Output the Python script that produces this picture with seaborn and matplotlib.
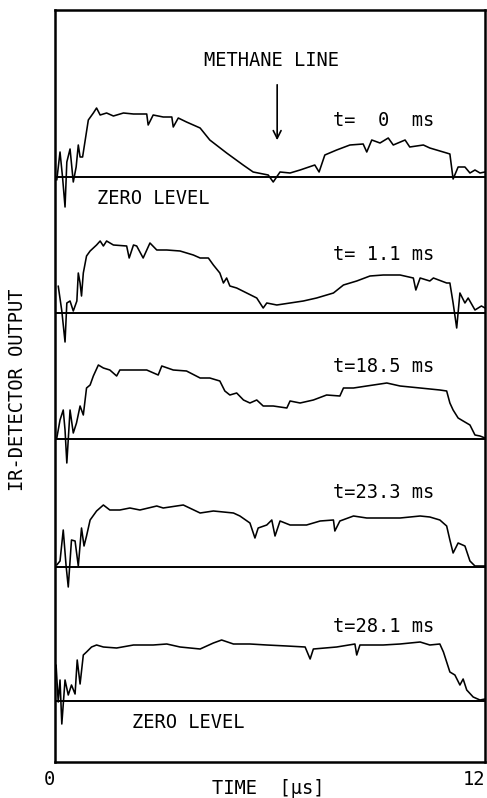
import matplotlib
matplotlib.use("Agg")
import matplotlib.pyplot as plt
import seaborn as sns
import pandas as pd
import numpy as np

# ---------------- data (time in µs, detector output in arbitrary units) -------------
labels = ["t=  0  ms", "t= 1.1 ms", "t=18.5 ms", "t=23.3 ms", "t=28.1 ms"]

t1 = [0.05, 0.14, 0.21, 0.28, 0.33, 0.42, 0.51, 0.59, 0.65, 0.70, 0.77, 0.93, 1.07, 1.16, 1.26,
      1.44, 1.63, 1.91, 2.19, 2.56, 2.60, 2.74, 3.02, 3.26, 3.30, 3.44, 3.67, 4.05, 4.32, 4.79,
      5.25, 5.53, 5.81, 5.95, 6.09, 6.28, 6.56, 6.84, 7.25, 7.37, 7.53, 7.86, 8.23, 8.60, 8.70,
      8.84, 9.07, 9.30, 9.44, 9.77, 9.90, 10.28, 10.46, 10.93, 11.02, 11.11, 11.25, 11.44, 11.58,
      11.72, 11.86, 12.0]
v1 = [-3, 25, 0, -30, 15, 28, -5, 10, 32, 20, 20, 57, 64, 69, 62,
      64, 61, 64, 63, 63, 52, 62, 60, 60, 50, 59, 55, 49, 37, 24,
      12, 5, 3, 2, -5, 5, 4, 7, 12, 5, 22, 27, 32, 33, 25,
      37, 34, 39, 32, 37, 30, 32, 29, 24, 23, -2, 10, 10, 4,
      7, 4, 5]

t2 = [0.09, 0.19, 0.28, 0.33, 0.42, 0.51, 0.61, 0.65, 0.70, 0.74, 0.79, 0.88, 0.98, 1.16, 1.26,
      1.35, 1.44, 1.63, 2.00, 2.07, 2.19, 2.28, 2.46, 2.65, 2.84, 3.12, 3.49, 3.86, 4.05, 4.28,
      4.42, 4.60, 4.70, 4.79, 4.88, 5.07, 5.35, 5.63, 5.81, 5.91, 6.19, 6.56, 6.93, 7.30, 7.77,
      8.05, 8.42, 8.79, 9.16, 9.63, 10.00, 10.07, 10.19, 10.46, 10.56, 10.93, 11.02, 11.11, 11.21,
      11.30, 11.44, 11.53, 11.72, 11.90, 12.0]
v2 = [27, 2, -29, 10, 12, 2, 12, 40, 30, 17, 40, 57, 62, 68, 72,
      67, 72, 68, 67, 55, 68, 67, 55, 70, 63, 63, 62, 58, 55, 55,
      48, 40, 30, 35, 27, 25, 20, 15, 5, 10, 8, 10, 12, 15, 20,
      28, 32, 37, 38, 38, 35, 23, 35, 32, 35, 30, 30, 10, -15, 20,
      10, 15, 3, 7, 5]

t3 = [0.05, 0.14, 0.23, 0.28, 0.33, 0.42, 0.51, 0.60, 0.70, 0.79, 0.88, 0.98, 1.07, 1.21, 1.35,
      1.53, 1.72, 1.81, 2.19, 2.56, 2.88, 2.98, 3.30, 3.67, 4.05, 4.32, 4.60, 4.74, 4.88, 5.07,
      5.26, 5.44, 5.63, 5.81, 6.09, 6.47, 6.56, 6.84, 7.21, 7.58, 7.95, 8.05, 8.33, 8.70, 9.26,
      9.63, 10.19, 10.74, 10.93, 11.02, 11.11, 11.25, 11.39, 11.58, 11.72, 11.86, 12.0]
v3 = [1, 19, 29, 9, -24, 29, 6, 16, 33, 24, 51, 54, 63, 74, 71,
      69, 63, 69, 69, 69, 64, 73, 69, 68, 61, 61, 58, 48, 44, 46,
      39, 36, 39, 33, 33, 31, 38, 36, 39, 44, 43, 51, 51, 53, 56,
      53, 51, 49, 48, 36, 29, 21, 18, 14, 4, 3, 1]

t4 = [0.05, 0.14, 0.23, 0.31, 0.37, 0.46, 0.56, 0.65, 0.74, 0.81, 0.88, 0.98, 1.16, 1.35, 1.53,
      1.81, 2.09, 2.37, 2.84, 3.02, 3.58, 4.05, 4.42, 4.98, 5.16, 5.44, 5.58, 5.67, 5.91, 6.05,
      6.14, 6.28, 6.56, 7.02, 7.40, 7.77, 7.81, 7.95, 8.33, 8.70, 9.16, 9.63, 10.19, 10.46, 10.74,
      10.93, 11.02, 11.11, 11.25, 11.44, 11.58, 11.72, 12.0]
v4 = [2, 6, 37, 1, -20, 27, 26, 1, 39, 21, 31, 47, 56, 62, 57,
      57, 59, 57, 61, 59, 62, 54, 56, 54, 51, 44, 29, 39, 42, 47,
      31, 46, 42, 42, 46, 47, 36, 46, 51, 49, 49, 49, 51, 50, 47,
      41, 27, 14, 24, 21, 6, 1, 1]

t5 = [0.03, 0.09, 0.14, 0.19, 0.28, 0.37, 0.46, 0.56, 0.62, 0.70, 0.79, 0.88, 1.02, 1.16, 1.35,
      1.72, 2.19, 2.74, 3.12, 3.49, 4.05, 4.42, 4.65, 4.98, 5.44, 5.91, 6.47, 6.98, 7.12, 7.21,
      7.86, 8.37, 8.42, 8.51, 9.16, 9.63, 10.19, 10.46, 10.74, 10.84, 11.02, 11.16, 11.30, 11.39,
      11.49, 11.67, 11.86, 12.0]
v5 = [36, -1, 21, -23, 21, 6, 16, 7, 41, 17, 46, 49, 54, 56, 54,
      53, 56, 56, 57, 54, 52, 58, 61, 57, 57, 56, 55, 54, 42, 52,
      54, 57, 46, 56, 56, 57, 59, 56, 57, 49, 29, 26, 16, 22,
      11, 4, 1, 2]

times = [t1, t2, t3, t4, t5]
values = [v1, v2, v3, v4, v5]
xtick_values = [0, 12]
xtick_labels = ["0", "12"]

# ---------------- layout -------------------------------------------------------------
baselines = [585, 449, 323, 195, 61]   # vertical offset of each trace's zero level
label_height = [57, 58, 72, 75, 74]

sns.set_style("white")
plt.rcParams['font.family'] = ['DejaVu Sans Mono', 'DejaVu Sans']
plt.rcParams['text.color'] = 'black'
plt.rcParams['xtick.color'] = 'black'

fig = plt.figure(figsize=(4.87, 7.98), dpi=100)
ax = fig.add_axes([55/487, 36/798, 430/487, 752/798])

for i, (tt, vv) in enumerate(zip(times, values)):
    df = pd.DataFrame({"time": tt, "out": np.array(vv, dtype=float) + baselines[i]})
    sns.lineplot(data=df, x="time", y="out", ax=ax, color="black", lw=1.15,
                 estimator=None, sort=False)
    ax.axhline(baselines[i], color="black", lw=1.4, zorder=1)
    ax.text(7.75, baselines[i] + label_height[i], labels[i], fontsize=13.5,
            ha="left", va="center", color="black")

ax.set_xlim(0, 12)
ax.set_ylim(0, 752)

# zero level labels
ax.text(1.17, baselines[0] - 21, "ZERO LEVEL", fontsize=13.5, ha="left", va="center")
ax.text(2.15, baselines[4] - 22, "ZERO LEVEL", fontsize=13.5, ha="left", va="center")

# methane line annotation
ax.text(6.03, baselines[0] + 117, "METHANE LINE", fontsize=13.5, ha="center", va="center")
ax.annotate("", xy=(6.2, baselines[0] + 34), xytext=(6.2, baselines[0] + 95),
            arrowprops=dict(arrowstyle="->", lw=1.2, color="black",
                            mutation_scale=14))

ax.set_xticks(xtick_values)
ax.set_xticklabels(xtick_labels, fontsize=13.5)
for lab in ax.get_xticklabels():
    lab.set_horizontalalignment("right")
ax.tick_params(axis="x", length=0, pad=6)
ax.set_yticks([])
ax.set_xlabel("")
ax.set_ylabel("")
for s in ax.spines.values():
    s.set_linewidth(1.8)
    s.set_color("black")

fig.text(268/487, 1 - 788/798, "TIME  [µs]", fontsize=13.5, ha="center", va="center")
fig.text(18/487, 1 - 390/798, "IR-DETECTOR OUTPUT", fontsize=13.5, ha="center",
         va="center", rotation=90)

fig.savefig("out.png", dpi=100)
